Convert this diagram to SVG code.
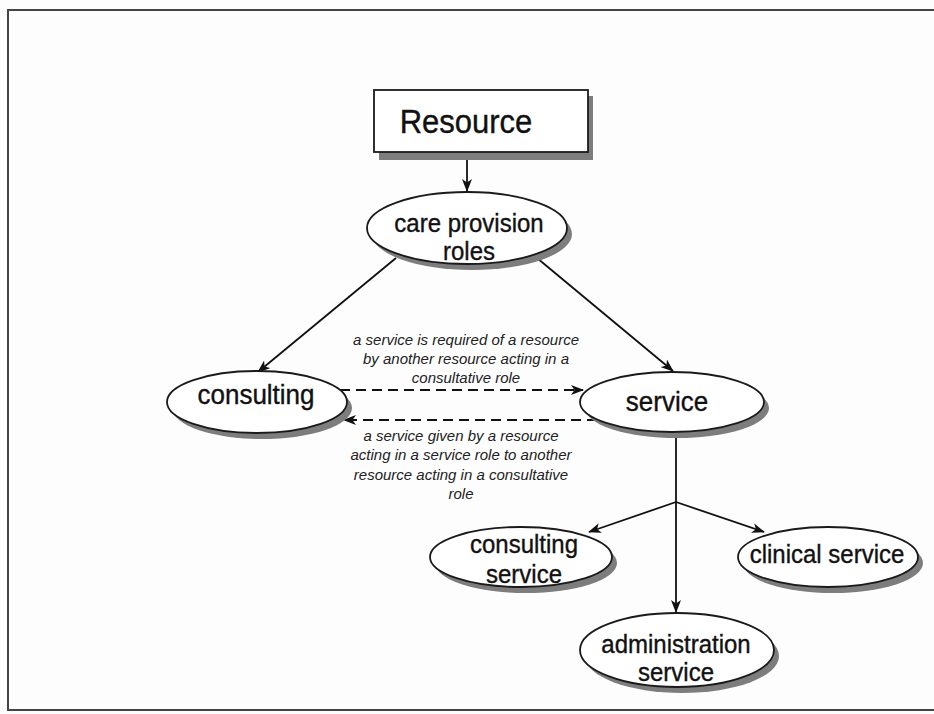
<svg xmlns="http://www.w3.org/2000/svg" width="934" height="714" viewBox="0 0 934 714">
  <defs>
    <marker id="arrow" viewBox="0 0 13 10" refX="12" refY="5" markerWidth="13" markerHeight="10" markerUnits="userSpaceOnUse" orient="auto">
      <path d="M0,0 L13,5 L0,10 L3.5,5 z" fill="#111"/>
    </marker>
    <style>
      .frame { fill: none; stroke: #444; stroke-width: 2; }
      .shadow { fill: #7d7d7d; stroke: none; }
      .node { fill: #fff; stroke: #1a1a1a; stroke-width: 1.8; }
      .label { font-family: "Liberation Sans", Arial, sans-serif; fill: #111; stroke: #111; stroke-width: 0.35; text-anchor: middle; }
      .note { font-family: "Liberation Sans", Arial, sans-serif; font-style: italic; font-size: 15px; fill: #222; text-anchor: middle; }
      .edge { fill: none; stroke: #111; stroke-width: 1.8; marker-end: url(#arrow); }
      .dash { stroke-dasharray: 10 6; }
    </style>
  </defs>

  <rect width="934" height="714" fill="#fdfdfd"/>
  <path class="frame" d="M940,10 H8 V710 H940"/>

  <!-- connectors -->
  <g id="connectors">
    <line class="edge" x1="467" y1="153" x2="467" y2="191"/>
    <line class="edge" x1="396" y1="258" x2="258" y2="372"/>
    <line class="edge" x1="537" y1="258" x2="673" y2="371"/>
    <line class="edge dash" x1="340" y1="390" x2="583" y2="390"/>
    <line class="edge dash" x1="597" y1="420" x2="344" y2="420"/>
    <line class="edge" x1="676" y1="432" x2="676" y2="612"/>
    <line class="edge" x1="676" y1="502" x2="589" y2="532"/>
    <line class="edge" x1="676" y1="502" x2="764" y2="532"/>
  </g>

  <!-- edge annotations -->
  <g id="note-request">
    <text class="note" x="466" y="345">a service is required of a resource</text>
    <text class="note" x="466" y="364">by another resource acting in a</text>
    <text class="note" x="466" y="383">consultative role</text>
  </g>
  <g id="note-given">
    <text class="note" x="461" y="441">a service given by a resource</text>
    <text class="note" x="461" y="460">acting in a service role to another</text>
    <text class="note" x="461" y="480">resource acting in a consultative</text>
    <text class="note" x="461" y="499">role</text>
  </g>

  <g id="resource">
    <rect class="shadow" x="379" y="96" width="214" height="64"/>
    <rect class="node" x="374" y="90" width="214" height="62"/>
    <text class="label" transform="translate(466,133) scale(1,1.08)" font-size="31">Resource</text>
  </g>

  <g id="care-provision-roles">
    <ellipse class="shadow" cx="472" cy="234" rx="100" ry="36"/>
    <ellipse class="node" cx="467" cy="228" rx="100" ry="36"/>
    <text class="label" transform="translate(469,232) scale(1,1.08)" font-size="24">care provision</text>
    <text class="label" transform="translate(469,260) scale(1,1.08)" font-size="24">roles</text>
  </g>

  <g id="consulting">
    <ellipse class="shadow" cx="262" cy="408" rx="90" ry="31"/>
    <ellipse class="node" cx="257" cy="402" rx="90" ry="31"/>
    <text class="label" transform="translate(256,404) scale(1,1.08)" font-size="26">consulting</text>
  </g>

  <g id="service">
    <ellipse class="shadow" cx="677" cy="408" rx="92" ry="30"/>
    <ellipse class="node" cx="672" cy="402" rx="92" ry="30"/>
    <text class="label" transform="translate(667,411) scale(1,1.08)" font-size="26">service</text>
  </g>

  <g id="consulting-service">
    <ellipse class="shadow" cx="526" cy="563" rx="91" ry="30"/>
    <ellipse class="node" cx="521" cy="557" rx="91" ry="30"/>
    <text class="label" transform="translate(524,553) scale(1,1.08)" font-size="24">consulting</text>
    <text class="label" transform="translate(524,583) scale(1,1.08)" font-size="24">service</text>
  </g>

  <g id="clinical-service">
    <ellipse class="shadow" cx="833" cy="563" rx="90" ry="30"/>
    <ellipse class="node" cx="828" cy="557" rx="90" ry="30"/>
    <text class="label" transform="translate(827,563) scale(1,1.08)" font-size="24">clinical service</text>
  </g>

  <g id="administration-service">
    <ellipse class="shadow" cx="682" cy="656" rx="97" ry="37"/>
    <ellipse class="node" cx="677" cy="650" rx="97" ry="37"/>
    <text class="label" transform="translate(676,653) scale(1,1.08)" font-size="24">administration</text>
    <text class="label" transform="translate(676,681) scale(1,1.08)" font-size="24">service</text>
  </g>
</svg>
